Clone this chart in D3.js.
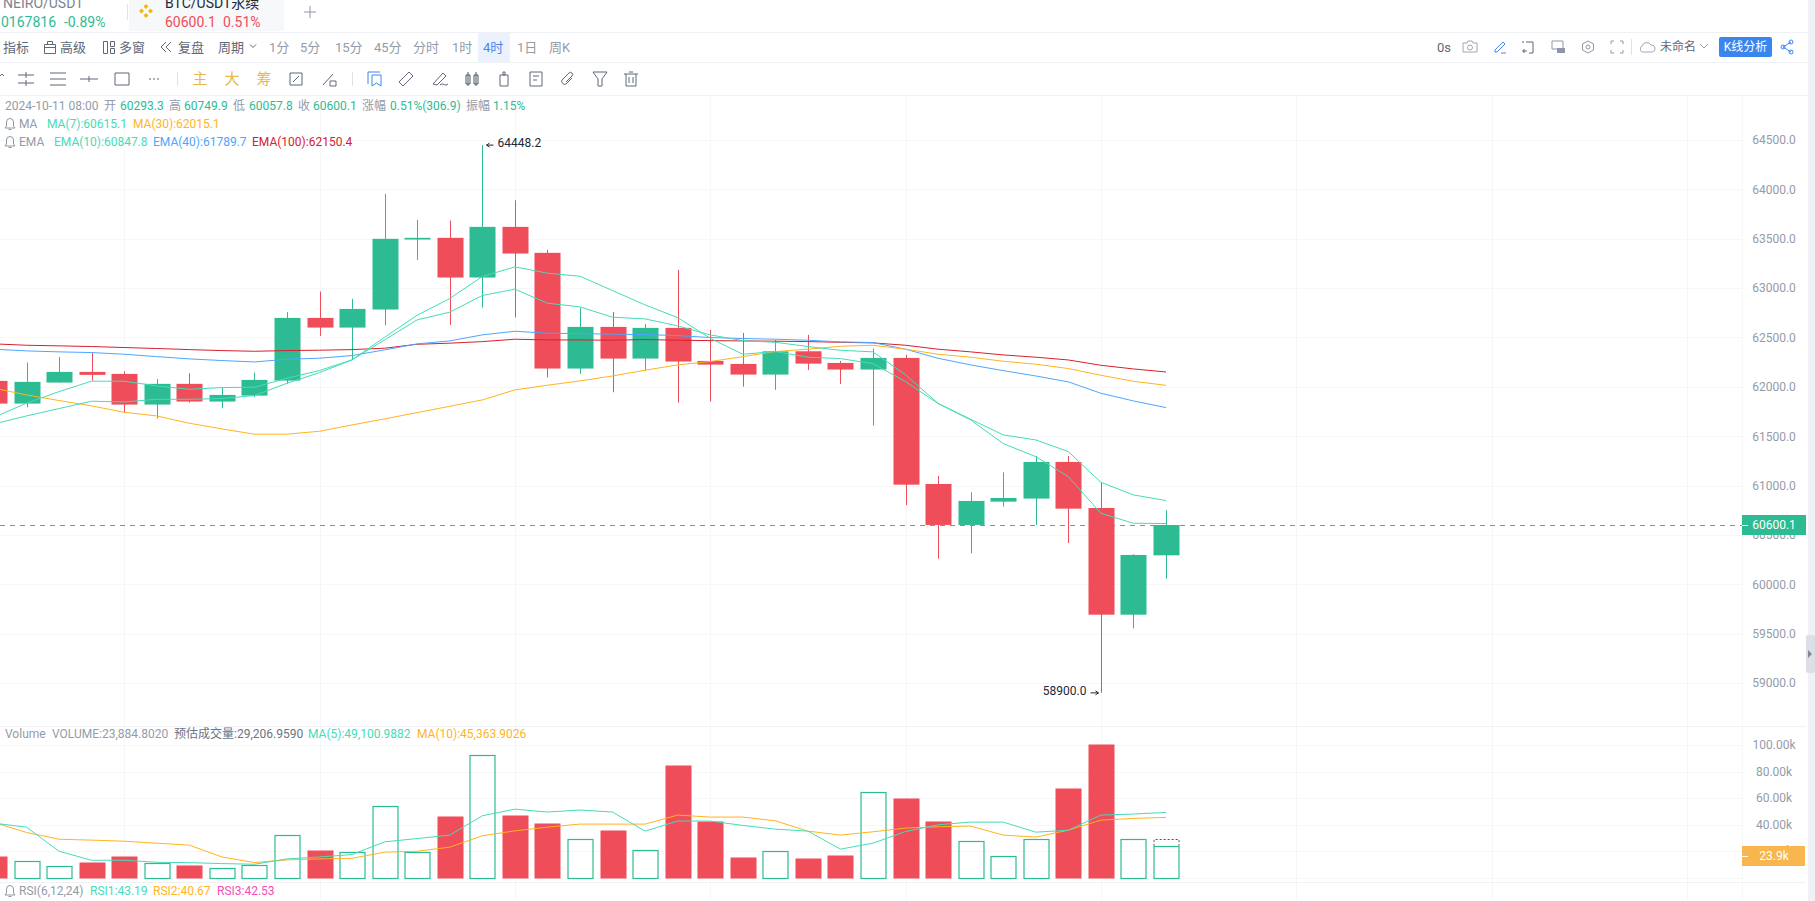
<!DOCTYPE html>
<html>
<head>
<meta charset="utf-8">
<title>BTC/USDT</title>
<script src="https://cdn.jsdelivr.net/npm/d3@7"></script>
<style>
  html, body { margin: 0; padding: 0; background: #fff; overflow: hidden; }
  text { font-family: Roboto, "Noto Sans CJK SC", sans-serif; font-size: 12px; }
</style>
</head>
<body>
<script>
// Candles, first one is cut off by the left edge of the chart
const opens = [62060,61830,62043,62151,62131,61820,62030,61851,61911,62063,62698,62600,62783,63492,63509,63107,63620,63357,62185,62607,62286,62597,62262,62232,62124,62360,62242,62175,62293,61016,60601,60837,60868,61239,60773,59692,60293.3]
const closes = [61830,62050,62151,62121,61820,62030,61851,61918,62070,62698,62600,62789,63499,63509,63107,63620,63350,62185,62607,62286,62597,62256,62225,62124,62360,62235,62175,62293,61009,60601,60844,60874,61239,60766,59692,60297,60600.1]
const highs = [62087,62246,62303,62347,62158,62080,62138,61992,62144,62756,62965,62891,63955,63691,63684,64448.2,63890,63387,62803,62759,62637,63184,62576,62546,62475,62526,62262,62387,62323,61097,60932,61134,61300,61300,61033,60304,60749.9]
const lows = [61800,61793,62043,62063,61739,61678,61840,61783,61894,62030,62516,62273,62624,63286,62627,62803,62702,62094,62131,61945,62168,61840,61850,62002,61969,62171,62029,61607,60803,60260,60314,60787,60601,60418,58900,59554,60057.8]

const ma7 = [61692,61834,61952,62057,62057,62009,61975,61992,61996,62087,62165,62273,62502,62725,62894,63117,63215,63151,63120,62975,62830,62701,62492,62330,62357,62300,62286,62235,62053,61830,61665,61425,61293,61090,60719,60618,60615.1]
const ma30 = [61986,61918,61861,61807,61742,61705,61631,61574,61520,61520,61550,61614,61675,61739,61803,61867,61969,62016,62060,62110,62168,62222,62256,62306,62357,62381,62411,62421,62381,62330,62300,62259,62229,62185,62117,62056,62015.1]
const ema10 = [61624,61705,61780,61854,61847,61874,61874,61881,61911,62036,62144,62273,62475,62678,62756,62925,62989,62847,62810,62705,62688,62617,62526,62468,62451,62408,62370,62354,62121,61833,61671,61513,61462,61344,61033,60905,60847.8]
const ema40 = [62381,62364,62354,62347,62330,62306,62283,62266,62252,62279,62290,62317,62374,62435,62465,62526,62563,62543,62539,62533,62529,62519,62499,62489,62482,62472,62455,62448,62381,62289,62222,62164,62110,62050,61935,61857,61789.7]
const ema100 = [62435,62421,62415,62408,62398,62388,62377,62367,62360,62367,62371,62377,62391,62431,62442,62458,62482,62475,62475,62472,62479,62472,62468,62465,62462,62458,62451,62445,62421,62381,62354,62323,62300,62272,62218,62181,62150.4]

// Volume in thousands
const volumes = [16.3,12.3,8.5,11.8,16.3,10.8,9.5,7,9.2,32,20.8,19.1,53.9,19.1,46.6,92.6,47.4,41.3,28.9,36,20.6,85.2,42.8,15.5,19.8,14.8,17,64.5,60.2,42.8,27.9,16,29.4,67.8,100.4,29.4,23.9]
const volMa5 = [41,38,19.8,13,13,11.5,11.2,10.5,10,14,15.5,17.3,26.9,29.4,32,46.6,51.6,49.4,50.9,49.4,35,42.6,42.6,39.3,36.5,35,21.4,25.9,34.7,39.8,41.8,41.8,34.2,35.7,47.1,47.9,49.1]
const volMa10 = [41.6,34,28.9,28.2,27.4,25.9,24.4,15.5,11.3,13.3,14,14.5,19.1,19.8,22.9,31.5,35.2,38,40.3,40.3,40.3,47.1,45.6,45.6,42.8,35,32,34.5,37.3,38.3,38.8,32,30.5,35.7,43.3,44.6,45.36]
const estimatedVolume = 29.2

const priceTicks = [59000,59500,60000,60500,61000,61500,62000,62500,63000,63500,64000,64500]
const volumeTicks = [20,40,60,80,100]
const lastPrice = 60600.1
const lastVolume = 23.9

const periods = ['1分','5分','15分','45分','分时','1时','4时','1日','周K']
const periodX = [269,300,335,374,413,452,483,517,549]

const GREEN = '#2dbb94'
const RED = '#ef4d59'
const TEAL = '#45dcb9'
const ORANGE = '#ffb41f'
const BLUE = '#4da6ff'
const DARKRED = '#d8202e'
const GREY = '#949ba9'
const GRID = '#f6f7f9'
const LINE = '#f0f1f4'
const TOOL = '#5f6878'

const WIDTH = 1815
const HEIGHT = 901
const AXIS_X = 1742
const BODY_WIDTH = 26

const svg = d3.select('body').append('svg')
  .attr('width', WIDTH)
  .attr('height', HEIGHT)
  .style('display', 'block')

const idx = opens.map((d, i) => i)

const x = d3.scaleLinear().domain([1, 36]).range([26.5, 1166])
const y = d3.scaleLinear().domain([59000, 64500]).range([683, 140])
const v = d3.scaleLinear().domain([0, 100]).range([877.5, 745])
const px = i => Math.round(x(i)) + 0.5

// grid
const grid = svg.append('g')
grid.selectAll('.vgrid').data(d3.range(4, 58, 6)).join('line')
  .attr('x1', d => px(d)).attr('x2', d => px(d))
  .attr('y1', 96).attr('y2', HEIGHT)
  .attr('stroke', GRID)
grid.append('line')
  .attr('x1', AXIS_X + 0.5).attr('x2', AXIS_X + 0.5)
  .attr('y1', 96).attr('y2', HEIGHT)
  .attr('stroke', GRID)
grid.selectAll('.pgrid').data(priceTicks).join('line')
  .attr('x1', 0).attr('x2', AXIS_X)
  .attr('y1', d => Math.round(y(d)) + 0.5).attr('y2', d => Math.round(y(d)) + 0.5)
  .attr('stroke', GRID)
grid.selectAll('.vgridh').data(volumeTicks.concat([0])).join('line')
  .attr('x1', 0).attr('x2', AXIS_X)
  .attr('y1', d => Math.round(v(d)) + 0.5).attr('y2', d => Math.round(v(d)) + 0.5)
  .attr('stroke', GRID)

// pane separators
const hLines = [[32, 1808], [62, 1808], [95, 1808], [726, 1806], [882, 1806]]
svg.selectAll('.sep').data(hLines).join('line')
  .attr('x1', 0).attr('x2', d => d[1])
  .attr('y1', d => d[0] + 0.5).attr('y2', d => d[0] + 0.5)
  .attr('stroke', LINE)

// last price line
svg.append('line')
  .attr('x1', 0).attr('x2', AXIS_X)
  .attr('y1', Math.round(y(lastPrice)) + 0.5).attr('y2', Math.round(y(lastPrice)) + 0.5)
  .attr('stroke', GREEN)
  .attr('stroke-dasharray', '5 5')

// candles
const upColor = i => closes[i] >= opens[i] ? GREEN : RED
const candles = svg.append('g')
candles.selectAll('.wick').data(idx).join('line')
  .attr('x1', i => px(i)).attr('x2', i => px(i))
  .attr('y1', i => y(highs[i])).attr('y2', i => y(lows[i]))
  .attr('stroke', upColor)
candles.selectAll('.body').data(idx).join('rect')
  .attr('x', i => px(i) - BODY_WIDTH / 2)
  .attr('width', BODY_WIDTH)
  .attr('y', i => y(Math.max(opens[i], closes[i])))
  .attr('height', i => Math.max(1, Math.abs(y(opens[i]) - y(closes[i]))))
  .attr('fill', upColor)

// moving averages
const priceLine = d3.line().x((d, i) => x(i)).y(d => y(d))
const volLine = d3.line().x((d, i) => x(i)).y(d => v(d))
const drawLine = (values, gen, color) => {
  svg.append('path')
    .attr('d', gen(values))
    .attr('fill', 'none')
    .attr('stroke', color)
    .attr('stroke-width', 1)
}

// high / low labels
const hi = highs.indexOf(d3.max(highs))
const lo = lows.indexOf(d3.min(lows))
const hiLabel = svg.append('g').attr('transform', `translate(${px(hi)},${y(highs[hi])})`)
hiLabel.append('path').attr('d', 'M4 0H11M4 0l3 -2M4 0l3 2').attr('stroke', '#1e2838').attr('fill', 'none')
hiLabel.append('text').attr('x', 15).attr('y', -2).attr('dy', '.32em').attr('fill', '#1e2838').text(d3.format('.1f')(highs[hi]))
const loLabel = svg.append('g').attr('transform', `translate(${px(lo)},${y(lows[lo])})`)
loLabel.append('path').attr('d', 'M-11 0H-3M-3 0l-3 -2M-3 0l-3 2').attr('stroke', '#1e2838').attr('fill', 'none')
loLabel.append('text').attr('x', -15).attr('y', -2).attr('dy', '.32em').attr('text-anchor', 'end').attr('fill', '#1e2838').text(d3.format('.1f')(lows[lo]))

// volume bars, up bars are hollow
const volBars = svg.append('g')
volBars.selectAll('rect').data(idx).join('rect')
  .attr('x', i => closes[i] >= opens[i] ? px(i) - BODY_WIDTH / 2 + 0.5 : px(i) - BODY_WIDTH / 2)
  .attr('width', i => closes[i] >= opens[i] ? BODY_WIDTH - 1 : BODY_WIDTH)
  .attr('y', i => Math.round(v(volumes[i])) + 0.5)
  .attr('height', i => Math.round(v(0)) - Math.round(v(volumes[i])))
  .attr('fill', i => closes[i] >= opens[i] ? 'none' : RED)
  .attr('stroke', i => closes[i] >= opens[i] ? GREEN : 'none')
  .attr('stroke-width', 1.2)

// estimated volume of the running candle
const lastI = idx.length - 1
svg.append('path')
  .attr('d', `M${px(lastI) - 12.5} ${v(lastVolume)}V${Math.round(v(estimatedVolume)) + 0.5}H${px(lastI) + 12.5}V${v(lastVolume)}`)
  .attr('fill', 'none')
  .attr('stroke', '#555')
  .attr('stroke-dasharray', '2 2')

drawLine(ema100, priceLine, DARKRED)
drawLine(ema40, priceLine, BLUE)
drawLine(ma30, priceLine, ORANGE)
drawLine(ema10, priceLine, TEAL)
drawLine(ma7, priceLine, TEAL)
drawLine(volMa10, volLine, ORANGE)
drawLine(volMa5, volLine, TEAL)

// axes
const priceAxis = d3.axisRight(y)
  .tickValues(priceTicks)
  .tickFormat(d3.format('.1f'))
  .tickSize(0)
  .tickPadding(0)
const pa = svg.append('g').attr('transform', 'translate(1774,0)').call(priceAxis)
pa.select('.domain').remove()
pa.selectAll('text').attr('x', 0).attr('text-anchor', 'middle').attr('fill', GREY).style('font-size', '12px')

const volAxis = d3.axisRight(v)
  .tickValues(volumeTicks)
  .tickFormat(d => d3.format('.2f')(d) + 'k')
  .tickSize(0)
const va = svg.append('g').attr('transform', 'translate(1774,0)').call(volAxis)
va.select('.domain').remove()
va.selectAll('text').attr('x', 0).attr('text-anchor', 'middle').attr('fill', GREY).style('font-size', '12px')

// value tags
const tag = (yPos, color, width, label) => {
  const g = svg.append('g').attr('transform', `translate(${AXIS_X},${Math.round(yPos)})`)
  g.append('rect').attr('y', -10).attr('width', width).attr('height', 20).attr('fill', color)
  g.append('line').attr('x2', 6).attr('y1', 0.5).attr('y2', 0.5).attr('stroke', '#fff')
  g.append('text').attr('x', 32).attr('dy', '.36em').attr('text-anchor', 'middle').attr('fill', '#fff').text(label)
}
tag(y(lastPrice), GREEN, 64, d3.format('.1f')(lastPrice))
tag(v(lastVolume) + 10, '#f7b64e', 63, lastVolume + 'k')

// text helper
const label = (xPos, yPos, str, color, size, anchor) => {
  svg.append('text')
    .attr('x', xPos).attr('y', yPos)
    .attr('dy', '.36em')
    .attr('fill', color)
    .attr('text-anchor', anchor || 'start')
    .style('font-size', (size || 12) + 'px')
    .text(str)
}

const icon = (xPos, yPos, d, color, fill) => {
  svg.append('path')
    .attr('transform', `translate(${xPos},${yPos})`)
    .attr('d', d)
    .attr('fill', fill || 'none')
    .attr('stroke', fill ? 'none' : (color || TOOL))
}

// tabs
svg.append('rect').attr('x', 129).attr('width', 155).attr('height', 31).attr('fill', '#f6f8fa')
svg.append('line').attr('x1', 127.5).attr('x2', 127.5).attr('y1', 4).attr('y2', 20).attr('stroke', '#dfe2e7')
label(3, 3, 'NEIRO/USDT', '#7b8494', 14)
label(1, 22, '0167816', GREEN, 14)
label(64, 22, '-0.89%', GREEN, 14)
label(165, 3, 'BTC/USDT永续', '#222b3a', 14)
label(165, 22, '60600.1', RED, 14)
label(223, 22, '0.51%', RED, 14)
icon(146, 11, 'M0 -7l2.5 2.5l-2.5 2.5l-2.5 -2.5zM-4.5 -2.5l2.5 2.5l-2.5 2.5l-2.5 -2.5zM4.5 -2.5l2.5 2.5l-2.5 2.5l-2.5 -2.5zM0 2l2.5 2.5l-2.5 2.5l-2.5 -2.5z', null, '#f0b90b')
icon(310, 12, 'M-6 0H6M0 -6V6', '#8f97a6')

// second row
label(3, 47, '指标', TOOL, 13)
label(60, 47, '高级', TOOL, 13)
label(119, 47, '多窗', TOOL, 13)
label(178, 47, '复盘', TOOL, 13)
label(218, 47, '周期', TOOL, 13)
icon(44.5, 41.5, 'M0 3H11V12H0ZM0 6H11M3 3V0H8V3', TOOL)
icon(103.5, 41.5, 'M0 0H4V12H0ZM7 0H11V5H7ZM7 7H11V12H7Z', TOOL)
icon(161, 47, 'M5 -5L0 0L5 5M10 -5L5 0L10 5', TOOL)
icon(253, 46, 'M-3 -1.5L0 1.5L3 -1.5', TOOL)
svg.append('rect').attr('x', 478).attr('y', 33).attr('width', 32).attr('height', 29).attr('fill', '#ebf2fd')
periods.forEach((p, i) => {
  label(periodX[i], 47, p, p === '4时' ? '#4a86e8' : GREY, 13)
})

// right side of second row
label(1437, 47, '0s', TOOL, 13)
icon(1470, 47, 'M-7 -4H-3L-2 -6H2L3 -4H7V5H-7ZM2.5 0.5A2.5 2.5 0 1 1 -2.5 0.5A2.5 2.5 0 1 1 2.5 0.5', '#a0a7b4')
icon(1500, 47, 'M-5 3L3 -5L5 -3L-3 5L-5 5ZM1 6H6', '#4a86e8')
icon(1528, 47, 'M-2 -5H5V6H1M-6 -5H-4M-6 4H-1M-4 2V6', TOOL)
icon(1558, 47, 'M-6 -6H5V2H-6Z', '#8f97a6')
icon(1558, 47, 'M-1 1H7V6H-1Z', null, '#8f97a6')
icon(1588, 47, 'M0 -6L5.5 -3V3L0 6L-5.5 3V-3ZM2 0A2 2 0 1 1 -2 0A2 2 0 1 1 2 0', '#8f97a6')
icon(1617, 47, 'M-6 -3V-6H-3M3 -6H6V-3M6 3V6H3M-3 6H-6V3', '#8f97a6')
svg.append('line').attr('x1', 1631.5).attr('x2', 1631.5).attr('y1', 39).attr('y2', 55).attr('stroke', '#dfe2e7')
icon(1647, 47, 'M-5 5A3.5 3.5 0 0 1 -5 -1A5 5 0 0 1 4 -2A3.5 3.5 0 0 1 5 5Z', '#a0a7b4')
label(1660, 47, '未命名', TOOL, 12)
icon(1704, 46, 'M-4 -2L0 2L4 -2', '#a0a7b4')
svg.append('rect').attr('x', 1719).attr('y', 37).attr('width', 53).attr('height', 20).attr('rx', 2).attr('fill', '#3b86ee')
label(1745.5, 47, 'K线分析', '#fff', 12, 'middle')
icon(1787, 47, 'M-4 0L4 -5M-4 0L4 5M-2 0A2 2 0 1 1 -6 0A2 2 0 1 1 -2 0M6 -5A2 2 0 1 1 2 -5A2 2 0 1 1 6 -5M6 5A2 2 0 1 1 2 5A2 2 0 1 1 6 5', '#3b86ee')

// third row, drawing tools
icon(2, 76, 'M-2 0L0 -2L2 0', TOOL)
icon(26, 79, 'M-8 -4H8M-8 4H8M0 -7V-1M0 1V7', TOOL)
icon(58, 79, 'M-8 -6H8M-8 0H8M-8 6H8', TOOL)
icon(89, 79, 'M-9 0H9M0 -3V3', TOOL)
icon(122, 79, 'M-7 -6H7V6H-7Z', TOOL)
icon(154, 79, 'M-5 0H-3M-1 0H1M3 0H5', TOOL)
svg.append('line').attr('x1', 177.5).attr('x2', 177.5).attr('y1', 72).attr('y2', 86).attr('stroke', '#dfe2e7')
label(200, 79, '主', '#e8b84a', 15, 'middle')
label(232, 79, '大', '#e8b84a', 15, 'middle')
label(264, 79, '筹', '#e8b84a', 15, 'middle')
icon(296, 79, 'M-6 -6H6V6H-6ZM-3 3L3 -3', TOOL)
icon(329, 79, 'M-6 6L4 -5M1 2H7V7H1Z', TOOL)
svg.append('line').attr('x1', 352.5).attr('x2', 352.5).attr('y1', 72).attr('y2', 86).attr('stroke', '#dfe2e7')
icon(375, 79, 'M-7 5V-7H5M-3 -4H6V7L1.5 4L-3 7Z', '#3b86ee')
icon(406, 79, 'M-7 3L3 -7L7 -3L-3 7Z', TOOL)
icon(440, 79, 'M-7 5L3 -6L6 -3L-3 6ZM0 6C3 3 5 8 8 5', TOOL)
icon(472, 79, 'M-6 -4H-2V5H-6ZM2 -4H6V5H2ZM-4 -7V7M4 -7V7', '#4d5666')
icon(504, 79, 'M-4 -4H4V7H-4ZM-1 -7H1V-4H-1Z', TOOL)
icon(536, 79, 'M-6 -7H6V7H-6ZM-3 -3H3M-3 1H1', TOOL)
icon(567, 79, 'M5 -1L-1 5A3 3 0 0 1 -5 1L2 -6A2 2 0 0 1 5 -3L-1 3', TOOL)
icon(600, 79, 'M-7 -7H7L2 0V7H-2V0Z', TOOL)
icon(631, 79, 'M-7 -5H7M-5 -5V7H5V-5M-2 -7H2M-2 -2V4M2 -2V4', TOOL)

// legends
const row = (yPos, items) => items.forEach(d => label(d[0], yPos, d[1], d[2]))
const bell = yPos => icon(10, yPos, 'M-5 4H5L3.5 2V-2A3.5 3.5 0 0 0 -3.5 -2V2ZM-1.5 5.5H1.5', '#8f97a6')

const last = closes.length - 1
row(106, [
  [5, '2024-10-11 08:00', GREY], [104, '开', GREY], [120, d3.format('.1f')(opens[last]), GREEN],
  [169, '高', GREY], [184, d3.format('.1f')(highs[last]), GREEN],
  [233, '低', GREY], [249, d3.format('.1f')(lows[last]), GREEN],
  [298, '收', GREY], [313, d3.format('.1f')(closes[last]), GREEN],
  [362, '涨幅', GREY], [390, '0.51%(306.9)', GREEN],
  [466, '振幅', GREY], [493, '1.15%', GREEN]
])
bell(124)
row(124, [
  [19, 'MA', GREY],
  [47, 'MA(7):' + d3.format('.1f')(ma7[last]), TEAL],
  [133, 'MA(30):' + d3.format('.1f')(ma30[last]), ORANGE]
])
bell(142)
row(142, [
  [19, 'EMA', GREY],
  [54, 'EMA(10):' + d3.format('.1f')(ema10[last]), TEAL],
  [153, 'EMA(40):' + d3.format('.1f')(ema40[last]), BLUE],
  [252, 'EMA(100):' + d3.format('.1f')(ema100[last]), DARKRED]
])
row(734, [
  [5, 'Volume', GREY],
  [52, 'VOLUME:23,884.8020', GREY],
  [174, '预估成交量:29,206.9590', '#6b7485'],
  [308, 'MA(5):49,100.9882', TEAL],
  [417, 'MA(10):45,363.9026', ORANGE]
])
bell(891)
row(891, [
  [19, 'RSI(6,12,24)', GREY],
  [90, 'RSI1:43.19', TEAL],
  [153, 'RSI2:40.67', ORANGE],
  [217, 'RSI3:42.53', '#f04fb5']
])

// collapse strip on the right
svg.append('rect').attr('x', 1808).attr('width', 7).attr('height', HEIGHT).attr('fill', '#f0f1f5')
svg.append('rect').attr('x', 1806).attr('y', 635).attr('width', 9).attr('height', 38).attr('rx', 2).attr('fill', '#dcdfe5')
icon(1808, 654, 'M0 -4L4 0L0 4Z', null, '#7f8794')
</script>
</body>
</html>
